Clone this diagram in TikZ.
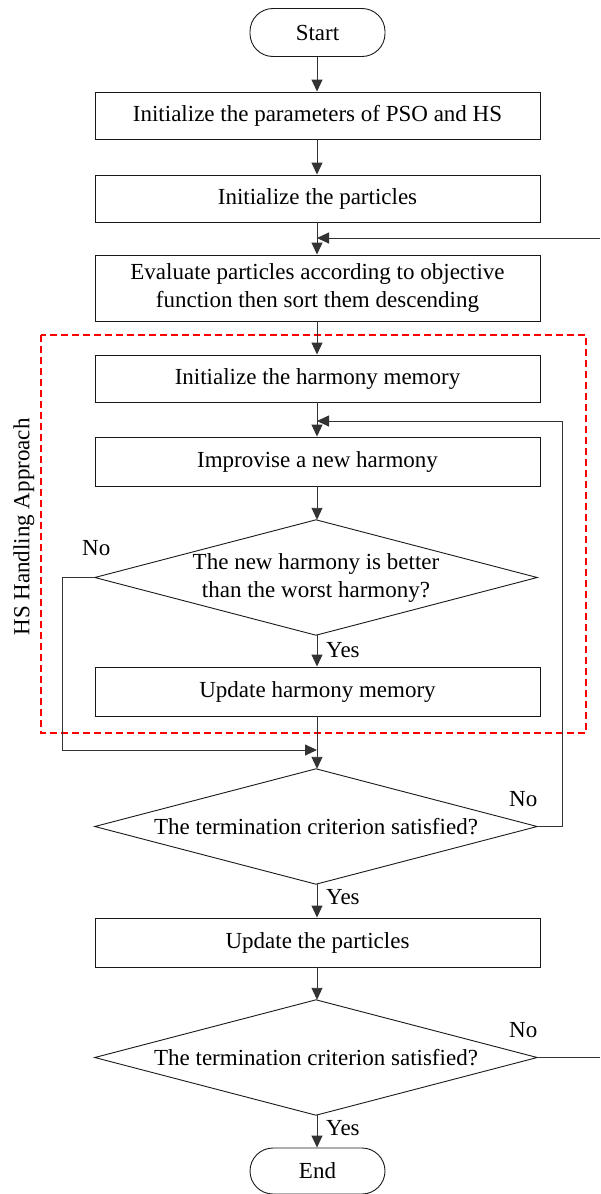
\documentclass[tikz,border=0pt]{standalone}
\usepackage{fontspec}
\setmainfont{Liberation Serif}
\usetikzlibrary{arrows.meta}
\begin{document}
\begin{tikzpicture}[x=1pt,y=-1pt,
  font=\fontsize{23}{28}\selectfont,
  box/.style={draw=black!90, line width=0.9pt, minimum width=445pt, minimum height=47pt, inner sep=0pt, align=center},
  term/.style={draw=black!90, line width=0.9pt, minimum width=135pt, minimum height=48pt, inner sep=0pt, rounded corners=23pt},
  dec/.style={minimum width=442pt, minimum height=115pt, inner sep=0pt, align=center},
  dshape/.style={draw=black!90, line width=0.9pt},
  conn/.style={draw=black!80, line width=0.9pt},
  arr/.style={conn, -{Triangle[length=12pt,width=11pt]}},
  lbl/.style={inner sep=0pt}
]
\useasboundingbox (0,0) rectangle (600,1194);
% HS dashed region
\draw[red, line width=1.4pt, dash pattern=on 7pt off 4pt] (41,335) rectangle (586,733);
\node[lbl, rotate=90] (hslbl) at (24,527) {HS Handling Approach};

\node[term] (start) at (317.5,32.5) {Start};
\node[box] (b1) at (317.5,115.5) {Initialize the parameters of PSO and HS};
\node[box] (b2) at (317.5,198.5) {Initialize the particles};
\node[box, minimum height=66pt] (b3) at (317.5,288) {Evaluate particles according to objective\\function then sort them descending};
\node[box] (b4) at (317.5,378.5) {Initialize the harmony memory};
\node[box, minimum height=49pt] (b5) at (317.5,461.5) {Improvise a new harmony};
\node[dec] (d1) at (316,577.5) {The new harmony is better\\than the worst harmony?};
\draw[dshape] (d1.west) -- (d1.north) -- (d1.east) -- (d1.south) -- cycle;
\node[box, minimum height=49pt] (b6) at (317.5,691.5) {Update harmony memory};
\node[dec] (d2) at (316,826.5) {The termination criterion satisfied?};
\draw[dshape] (d2.west) -- (d2.north) -- (d2.east) -- (d2.south) -- cycle;
\node[box, minimum height=49pt] (b7) at (317.5,942.5) {Update the particles};
\node[dec] (d3) at (316,1057.5) {The termination criterion satisfied?};
\draw[dshape] (d3.west) -- (d3.north) -- (d3.east) -- (d3.south) -- cycle;
\node[term, minimum height=46pt] (end) at (317.5,1171) {End};

% join points on the main line
\coordinate (j1) at (317,238);
\coordinate (j2) at (317,421);
\coordinate (j3) at (317,750);
\coordinate (rout) at (600,1057.5);
\coordinate (rin) at (600,238);

% main flow
\draw[arr] (start.south -| 317,0) -- (b1.north -| 317,0);
\draw[arr] (b1.south -| 317,0) -- (b2.north -| 317,0);
\draw[arr] (b2.south -| 317,0) -- (b3.north -| 317,0);
\draw[arr] (b3.south -| 317,0) -- (b4.north -| 317,0);
\draw[arr] (b4.south -| 317,0) -- (b5.north -| 317,0);
\draw[arr] (b5.south -| 317,0) -- (d1.north -| 317,0);
\draw[arr] (d1.south -| 317,0) -- (b6.north -| 317,0);
\draw[arr] (b6.south -| 317,0) -- (d2.north -| 317,0);
\draw[arr] (d2.south -| 317,0) -- (b7.north -| 317,0);
\draw[arr] (b7.south -| 317,0) -- (d3.north -| 317,0);
\draw[arr] (d3.south -| 317,0) -- (end.north -| 317,0);

% loops
\draw[arr] (d1.west) -- (62,577.5) |- (j3);
\draw[arr] (d2.east) -- (562,826.5) |- (j2);
\draw[conn] (d3.east) -- (rout);
\draw[arr] (rin) -- (j1);

% labels
\node[lbl, anchor=west] (no1) at (82,548) {No};
\node[lbl, anchor=west] (yes1) at (326,650) {Yes};
\node[lbl, anchor=west] (no2) at (509,799) {No};
\node[lbl, anchor=west] (yes2) at (326,897) {Yes};
\node[lbl, anchor=west] (no3) at (509,1030) {No};
\node[lbl, anchor=west] (yes3) at (326,1128) {Yes};
\end{tikzpicture}
\end{document}
